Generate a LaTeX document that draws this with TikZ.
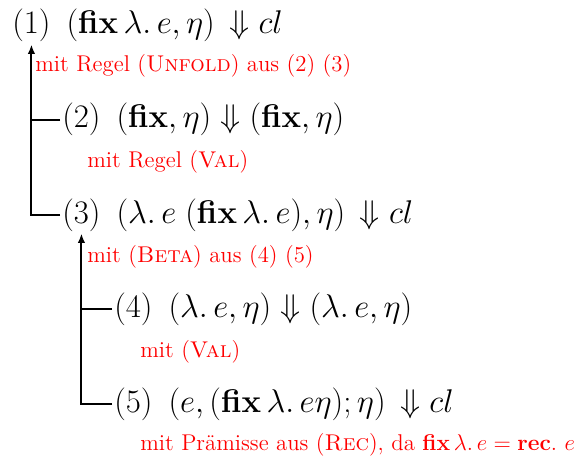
\documentclass[tikz,border=0pt]{standalone}
\usepackage{amsmath,amssymb}
\usepackage{xcolor}
\usepackage{tikz}
\usetikzlibrary{positioning,arrows.meta}
\newcommand{\kw}[1]{\mathbf{#1}}
\newcommand{\rul}[1]{\textsc{#1}}

\begin{document}
\begin{tikzpicture}[
    x=0.5263pt, y=-0.5263pt,
    node distance=0pt and 6pt,
    num/.style={font=\LARGE, inner sep=1pt, anchor=base west},
    expr/.style={font=\LARGE, inner sep=1pt, anchor=base west},
    note/.style={font=\large, text=red, inner sep=0pt, anchor=base west},
    arr/.style={-{Latex[length=5pt,width=4pt]}, line width=1pt},
    link/.style={line width=1pt}
]
\useasboundingbox (0,0) rectangle (579,459);

% judgements
\node[num] (n1) at (10,34) {(1)};
\node[expr, right=of n1.base east, anchor=base west] (e1) {$(\kw{fix}\,\lambda.\,e,\eta)\,\Downarrow cl$};
\node[num] (n2) at (60,128) {(2)};
\node[expr, right=of n2.base east, anchor=base west] (e2) {$(\kw{fix},\eta)\Downarrow(\kw{fix},\eta)$};
\node[num] (n3) at (60,223) {(3)};
\node[expr, right=of n3.base east, anchor=base west] (e3) {$(\lambda.\,e\;(\kw{fix}\,\lambda.\,e),\eta)\,\Downarrow cl$};
\node[num] (n4) at (112,317) {(4)};
\node[expr, right=of n4.base east, anchor=base west] (e4) {$(\lambda.\,e,\eta)\Downarrow(\lambda.\,e,\eta)$};
\node[num] (n5) at (112,412) {(5)};
\node[expr, right=of n5.base east, anchor=base west] (e5) {$(e,(\kw{fix}\,\lambda.\,e\eta);\eta)\,\Downarrow cl$};

% rules
\node[note] (r1) at (35,72) {mit Regel (\rul{Unfold}) aus (2) (3)};
\node[note] (r2) at (87,167) {mit Regel (\rul{Val})};
\node[note] (r3) at (87,262) {mit (\rul{Beta}) aus (4) (5)};
\node[note] (r4) at (140,357) {mit (\rul{Val})};
\node[note] (r5) at (140,450) {mit Prämisse aus (\rul{Rec}), da $\kw{fix}\,\lambda.\,e=\kw{rec}.\ e$};

% tree lines
\draw[arr] (n3.west) -| (n1.south);
\draw[link] (n2.west) -- (n2.west -| n1.south);
\draw[arr] (n5.west) -| (n3.south);
\draw[link] (n4.west) -- (n4.west -| n3.south);
\end{tikzpicture}
\end{document}
